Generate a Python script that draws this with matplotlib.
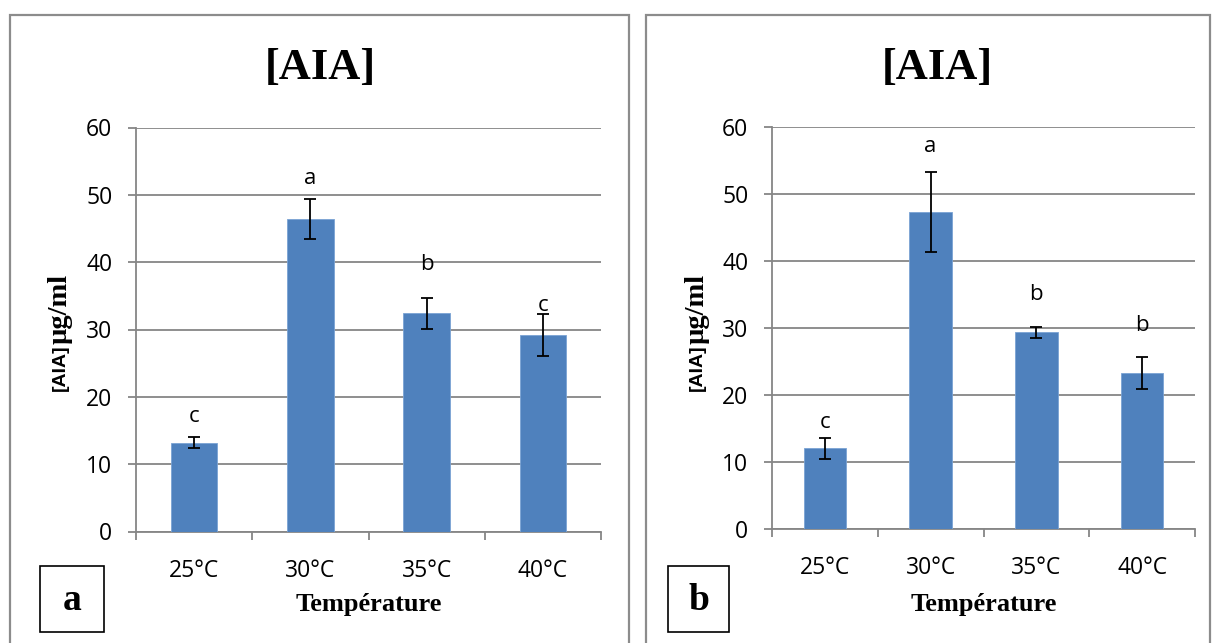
import matplotlib.pyplot as plt
from matplotlib.patches import Rectangle

# data -------------------------------------------------------------
temps = ["25°C", "30°C", "35°C", "40°C"]

aia_a = [13.2, 46.4, 32.4, 29.2]
err_a = [0.8, 3.0, 2.3, 3.1]
letters_a = ["c", "a", "b", "c"]
letter_y_a = [17.1, 52.5, 39.6, 33.5]

aia_b = [12.0, 47.3, 29.3, 23.2]
err_b = [1.6, 6.0, 0.85, 2.4]
letters_b = ["c", "a", "b", "b"]
letter_y_b = [15.9, 57.1, 34.9, 30.3]

panel_tags = ["a", "b"]

BAR = "#4F81BD"
GRID = "#868686"
SANS = "Open Sans"
SERIF = "Liberation Serif"
TICK_FS = 16.5

W, H = 1213, 643
fig = plt.figure(figsize=(W / 100, H / 100), dpi=100)


def fx(px):
    return px / W


def fy(py):
    return 1 - py / H


def draw_panel(box, axrect, vals, errs, letters, letter_y, tag, title_x, ylab_x, tagbox):
    # outer frame of the panel
    x0, x1 = box
    fig.patches.append(Rectangle((fx(x0), fy(H + 5)), fx(x1 - x0), (H + 5 - 15) / H,
                                 transform=fig.transFigure, fill=False,
                                 edgecolor="#8c8c8c", linewidth=1.6))
    ax = fig.add_axes(axrect)
    xs = range(len(temps))
    ax.bar(xs, vals, width=0.4, color=BAR, edgecolor="#7aa3d4", linewidth=0.6, zorder=3)
    ax.errorbar(xs, vals, yerr=errs, fmt="none", ecolor="black", elinewidth=1.3,
                capsize=4.5, capthick=1.3, zorder=4)
    for i, (l, ly) in enumerate(zip(letters, letter_y)):
        ax.text(i, ly, l, ha="center", va="center", fontsize=16, family=SANS, zorder=5)

    ax.set_xlim(-0.5, 3.5)
    ax.set_ylim(0, 60)
    ax.set_yticks(range(0, 61, 10))
    ax.yaxis.grid(True, color=GRID, linewidth=1.3, zorder=0)
    ax.set_axisbelow(True)
    for s in ["top", "right"]:
        ax.spines[s].set_visible(False)
    for s in ["left", "bottom"]:
        ax.spines[s].set_color(GRID)
        ax.spines[s].set_linewidth(1.3)

    ax.set_xticks(list(xs))
    ax.set_xticklabels(temps)
    ax.set_xticks([-0.5, 0.5, 1.5, 2.5, 3.5], minor=True)
    ax.tick_params(axis="x", which="major", length=0, pad=20, labelsize=TICK_FS)
    ax.tick_params(axis="x", which="minor", length=6, width=1.3, color=GRID, direction="out")
    ax.tick_params(axis="y", length=6, width=1.3, color=GRID, pad=11, labelsize=TICK_FS)
    for t in ax.get_xticklabels() + ax.get_yticklabels():
        t.set_family(SANS)

    cx = axrect[0] + axrect[2] / 2
    fig.text(fx(title_x), fy(68), "[AIA]", ha="center", va="center",
             fontsize=32, fontweight="bold", family=SERIF)
    # y label: "[AIA]" in bold sans, "µg/ml" in bold serif
    fig.text(fx(ylab_x), fy(344), "[AIA]", ha="center", va="top", rotation=90,
             fontsize=14, fontweight="bold", family="Liberation Sans")
    fig.text(fx(ylab_x), fy(344), "µg/ml", ha="center", va="bottom", rotation=90,
             fontsize=20.5, fontweight="bold", family=SERIF)
    fig.text(cx, fy(604), "Température", ha="center", va="center",
             fontsize=19, fontweight="bold", family=SERIF)

    bx0, bx1 = tagbox
    fig.patches.append(Rectangle((fx(bx0), fy(632)), fx(bx1 - bx0), 66 / H,
                                 transform=fig.transFigure, fill=False,
                                 edgecolor="black", linewidth=1.2))
    fig.text(fx((bx0 + bx1) / 2), fy(600), tag, ha="center", va="center",
             fontsize=27, fontweight="bold", family=SERIF)
    return ax


draw_panel((10, 629), [fx(136), fy(531.5), fx(601 - 136), (531.5 - 127.5) / H],
           aia_a, err_a, letters_a, letter_y_a, panel_tags[0], 320, 60, (40, 104))
draw_panel((646, 1210), [fx(772), fy(528.7), fx(1195 - 772), (528.7 - 126.7) / H],
           aia_b, err_b, letters_b, letter_y_b, panel_tags[1], 937, 697, (668, 729))

plt.savefig("out.png", dpi=100)
